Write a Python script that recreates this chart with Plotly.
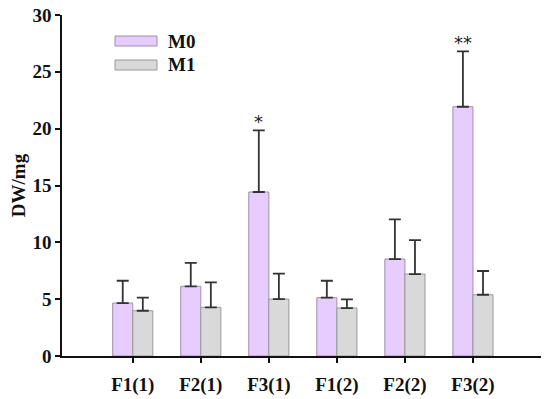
import plotly.graph_objects as go

categories = ["F1(1)", "F2(1)", "F3(1)", "F1(2)", "F2(2)", "F3(2)"]
m0_values = [4.66, 6.13, 14.43, 5.13, 8.53, 21.93]
m0_err = [1.96, 2.07, 5.42, 1.49, 3.49, 4.87]
m1_values = [3.98, 4.28, 5.01, 4.22, 7.21, 5.39]
m1_err = [1.15, 2.20, 2.23, 0.76, 2.99, 2.09]
y_ticks = [0, 5, 10, 15, 20, 25, 30]
sig_labels = ["", "", "*", "", "", "**"]

FONT = "Liberation Serif"
fig = go.Figure()
fig.add_trace(go.Bar(
    x=categories, y=m0_values, name="M0",
    marker=dict(color="#E6CCFF", line=dict(color="#9E90A8", width=1)),
    error_y=dict(type="data", array=m0_err, arrayminus=[0]*6, symmetric=False,
                 color="#333333", thickness=1.8, width=6),
))
fig.add_trace(go.Bar(
    x=categories, y=m1_values, name="M1",
    marker=dict(color="#D9D9D9", line=dict(color="#999999", width=1)),
    error_y=dict(type="data", array=m1_err, arrayminus=[0]*6, symmetric=False,
                 color="#333333", thickness=1.8, width=6),
))

for c, v, e, s in zip(categories, m0_values, m0_err, sig_labels):
    if s:
        fig.add_annotation(x=c, y=v + e, text=s, showarrow=False, xref="x", yref="y",
                           yanchor="bottom", xshift=-10, yshift=-4,
                           font=dict(family="DejaVu Sans", size=18, color="#222222"))

# page body offset compensation
O = 8
W, H = 550, 399
ml, mt = 62 - O, 15 - O
mr, mb = W - (541 - O), H - (356 - O)
pw, ph = W - ml - mr, H - mt - mb
def px(x): return (x - O - ml) / pw
def py(y): return 1 - (y - O - mt) / ph
legend_items = [("M0", "#E6CCFF", "#9E90A8", 41), ("M1", "#D9D9D9", "#999999", 65)]
for name, fill, line, yc in legend_items:
    fig.add_shape(type="rect", xref="paper", yref="paper",
                  x0=px(115), x1=px(157), y0=py(yc + 5), y1=py(yc - 5),
                  fillcolor=fill, line=dict(color=line, width=1))
    fig.add_annotation(xref="paper", yref="paper", x=px(166), y=py(yc), text="<b>%s</b>" % name,
                       showarrow=False, xanchor="left", yanchor="middle",
                       font=dict(family=FONT, size=19, color="#111111"))

fig.update_layout(
    width=W, height=H, margin=dict(l=ml, r=mr, t=mt, b=mb),
    plot_bgcolor="white", paper_bgcolor="white",
    barmode="group", bargap=0.41, bargroupgap=0,
    showlegend=False,
    font=dict(family=FONT, size=19, color="#111111"),
    xaxis=dict(range=[-1.04, 6.0], showline=True, linecolor="#111111", linewidth=1.5,
               ticks="outside", ticklen=5, tickwidth=1.5, tickcolor="#111111",
               tickfont=dict(family=FONT, size=19), ticklabelstandoff=5,
               tickvals=categories, ticktext=["<b>%s</b>" % c for c in categories],
               showgrid=False, zeroline=False, automargin=False),
    yaxis=dict(range=[0, 30], showline=True, linecolor="#111111", linewidth=1.5,
               ticks="outside", ticklen=5, tickwidth=1.5, tickcolor="#111111",
               tickvals=y_ticks, ticktext=["<b>%d</b>" % t for t in y_ticks],
               tickfont=dict(family=FONT, size=19), showgrid=False, zeroline=False,
               automargin=False, ticklabeloverflow="allow",
               title=dict(text="<b>DW/mg</b>", font=dict(family=FONT, size=19), standoff=8)),
)
fig.write_html("out.html")
